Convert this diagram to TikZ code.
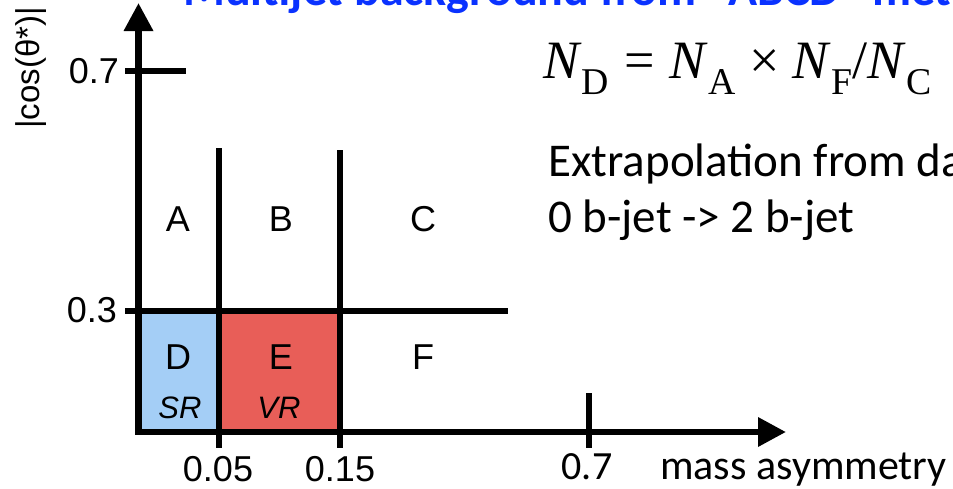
\documentclass[tikz,border=0pt]{standalone}
\usepackage{fontspec}
\setmainfont{Liberation Sans}
\newfontfamily\calfont{Carlito}
\newfontfamily\serfont{Liberation Serif}
\usetikzlibrary{arrows.meta}
\definecolor{srblue}{RGB}{164,206,246}
\definecolor{vrred}{RGB}{232,94,88}
\definecolor{titleblue}{RGB}{10,50,255}
\begin{document}
\begin{tikzpicture}[x=1pt,y=-1pt,
  axis/.style={line width=6.5pt},
  axisarrows/.style={{Triangle[length=28pt,width=28pt]}-{Triangle[length=28pt,width=28pt]}},
  region/.style={font=\fontsize{36}{40}\selectfont, inner sep=0pt},
  subreg/.style={font=\itshape\fontsize{31}{36}\selectfont, inner sep=0pt},
  ticklab/.style={font=\fontsize{36}{40}\selectfont, inner sep=0pt},
  caltext/.style={font=\calfont\fontsize{47}{55}\selectfont, inner sep=0pt, anchor=base west}]
\useasboundingbox (0,0) rectangle (953,488);
\clip (0,0) rectangle (953,488);
% title (cut off at the top)
\node[anchor=base west, inner sep=0pt, text=titleblue,
  font=\calfont\bfseries\fontsize{48}{56}\selectfont] (title) at (183,5)
  {Multijet background from "ABCD" method};
% regions
\fill[srblue] (138.5,311) rectangle (219,432);
\fill[vrred] (219,311) rectangle (340,432);
% axes
\coordinate (ytip) at (138.5,3);
\coordinate (O) at (138.5,432);
\coordinate (xtip) at (786,432);
\draw[axis,axisarrows] (ytip) -- (O) -- (xtip);
% ticks and cut lines
\coordinate (t7a) at (125,71);  \coordinate (t7b) at (186,71);
\coordinate (t3a) at (125,311); \coordinate (t3b) at (508,311);
\coordinate (v1a) at (219,148); \coordinate (v1b) at (219,448);
\coordinate (v2a) at (340,150); \coordinate (v2b) at (340,448);
\coordinate (v3a) at (589,393); \coordinate (v3b) at (589,448);
\draw[axis] (t7a) -- (t7b);
\draw[axis] (t3a) -- (t3b);
\draw[axis] (v1a) -- (v1b);
\draw[axis] (v2a) -- (v2b);
\draw[axis] (v3a) -- (v3b);
% region labels
\node[region] (A) at (178,219) {A};
\node[region] (B) at (281,219) {B};
\node[region] (C) at (423,219) {C};
\node[region] (D) at (178,357) {D};
\node[region] (E) at (281,357) {E};
\node[region] (F) at (423,357) {F};
\node[subreg] (SR) at (180,408) {SR};
\node[subreg] (VR) at (279,408) {VR};
% tick labels
\node[ticklab, anchor=east] (l07) at (119,71) {0.7};
\node[ticklab, anchor=east] (l03) at (117,310) {0.3};
\node[ticklab] (l005) at (218,469) {0.05};
\node[ticklab] (l015) at (340,469) {0.15};
\node[anchor=base, inner sep=0pt, font=\calfont\fontsize{40}{48}\selectfont] (l7) at (587,479) {0.7};
\node[anchor=base west, inner sep=0pt, font=\calfont\fontsize{42}{48}\selectfont] (xlab) at (660,479) {mass asymmetry};
% y axis label
\node[rotate=90, inner sep=0pt, font=\fontsize{33}{38}\selectfont] (ylab) at (31,68) {|cos(θ*)|};
% formula
\node[anchor=base west, inner sep=0pt, font=\serfont\fontsize{54}{62}\selectfont] (formula) at (543,78)
  {\textit{N}\textsubscript{D}\hspace{15pt}=\hspace{15pt}\textit{N}\textsubscript{A}\hspace{13pt}×\hspace{13pt}\textit{N}\textsubscript{F}/\textit{N}\textsubscript{C}};
% text
\node[caltext] (ex1) at (548,176) {Extrapolation from data};
\node[caltext] (ex2) at (548,232) {0 b-jet -> 2 b-jet};
\end{tikzpicture}
\end{document}
